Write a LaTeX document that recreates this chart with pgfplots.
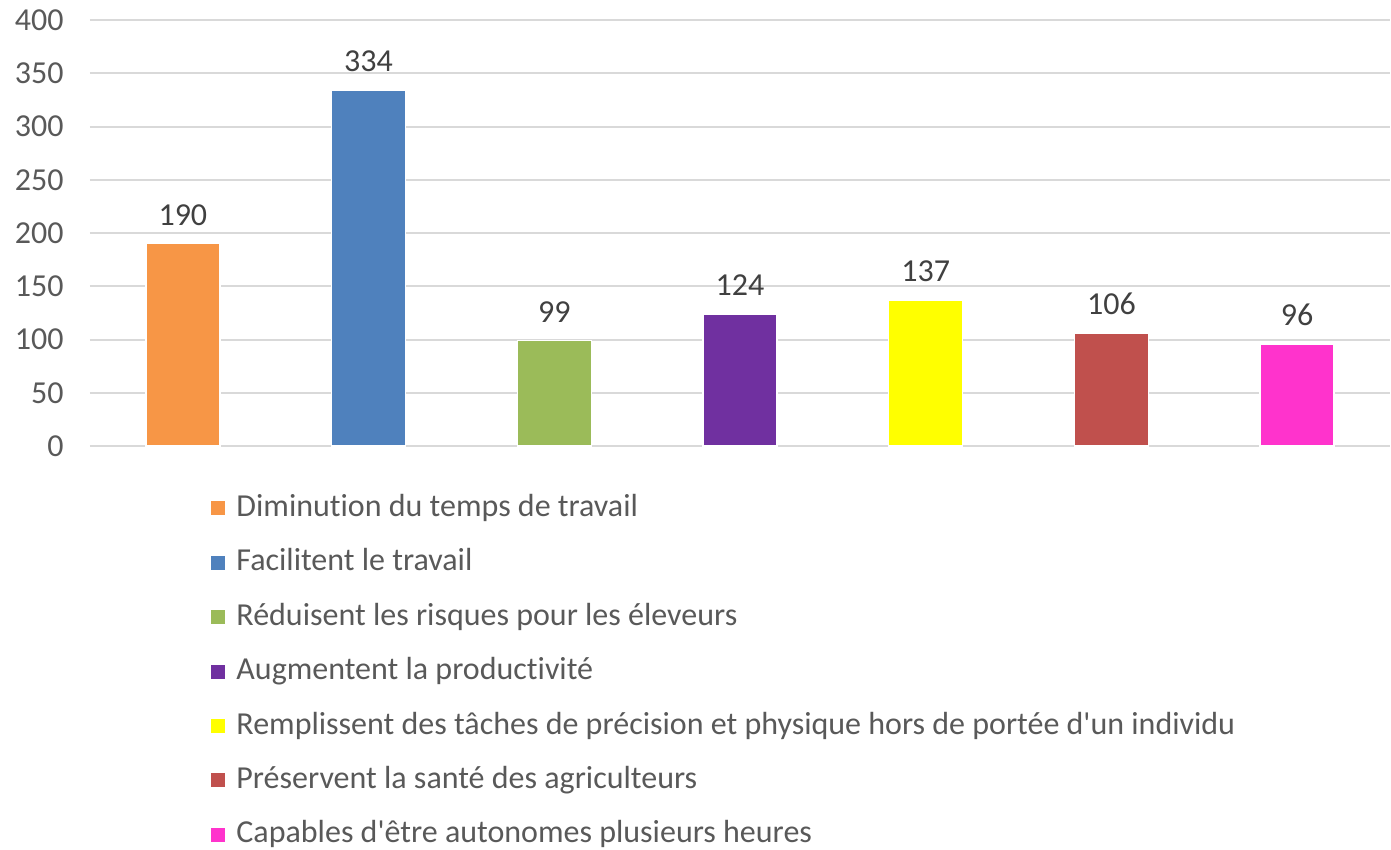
\documentclass[border=0pt]{standalone}
\usepackage{fontspec}
\setmainfont{Carlito}[Ligatures={TeXOff,NoCommon}]
\usepackage{pgfplots}
\pgfplotsset{compat=1.18}
\definecolor{txtgray}{HTML}{595959}
\definecolor{lblgray}{HTML}{404040}
\definecolor{gridgray}{HTML}{D9D9D9}
\definecolor{c1}{HTML}{F79646}
\definecolor{c2}{HTML}{4F81BD}
\definecolor{c3}{HTML}{9BBB59}
\definecolor{c4}{HTML}{7030A0}
\definecolor{c5}{HTML}{FFFF00}
\definecolor{c6}{HTML}{C0504D}
\definecolor{c7}{HTML}{FF33CC}
\newcommand{\chartfont}{\fontsize{16}{19}\selectfont}

\begin{document}
\begin{tikzpicture}
\begin{axis}[
  scale only axis,
  width=650pt, height=213pt,
  xmin=-0.5, xmax=6.5, ymin=0, ymax=400,
  ytick={0,50,...,400}, xtick=\empty,
  ymajorgrids, grid style={line width=1pt, color=gridgray},
  axis line style={draw=none}, major tick length=0pt,
  tick label style={font=\chartfont, text=txtgray},
  yticklabel style={xshift=-9.7pt},
  /pgf/number format/assume math mode=true,
  ybar, bar width=37pt, bar shift=0pt,
  every axis plot/.append style={draw=white, line width=0.75pt},
  nodes near coords,
  nodes near coords style={font=\chartfont, text=lblgray, yshift=5.5pt},
  legend image code/.code={\fill[#1, draw=none] (0pt,-3.5pt) rectangle (7pt,3.5pt);},
  legend style={draw=none, fill=none, inner sep=0pt,
    at={(0.0931,-0.1127)}, anchor=north west,
    font=\chartfont, text=txtgray,
    nodes={inner sep=0pt, text height=11pt, text depth=3pt},
    row sep=13.2pt, column sep=5.5pt},
  legend cell align=left,
]
\addplot[fill=c1] coordinates {(0,190)};
\addplot[fill=c2] coordinates {(1,334)};
\addplot[fill=c3] coordinates {(2,99)};
\addplot[fill=c4] coordinates {(3,124)};
\addplot[fill=c5] coordinates {(4,137)};
\addplot[fill=c6] coordinates {(5,106)};
\addplot[fill=c7] coordinates {(6,96)};
\legend{Diminution du temps de travail,
  Facilitent le travail,
  Réduisent les risques pour les éleveurs,
  Augmentent la productivité,
  Remplissent des tâches de précision et physique hors de portée d'un individu,
  Préservent la santé des agriculteurs,
  Capables d'être autonomes plusieurs heures}
\end{axis}
\path (current axis.south west) ++(-45pt,-201.5pt);
\path (current axis.north east) ++(0.5pt,10pt);
\end{tikzpicture}
\end{document}
